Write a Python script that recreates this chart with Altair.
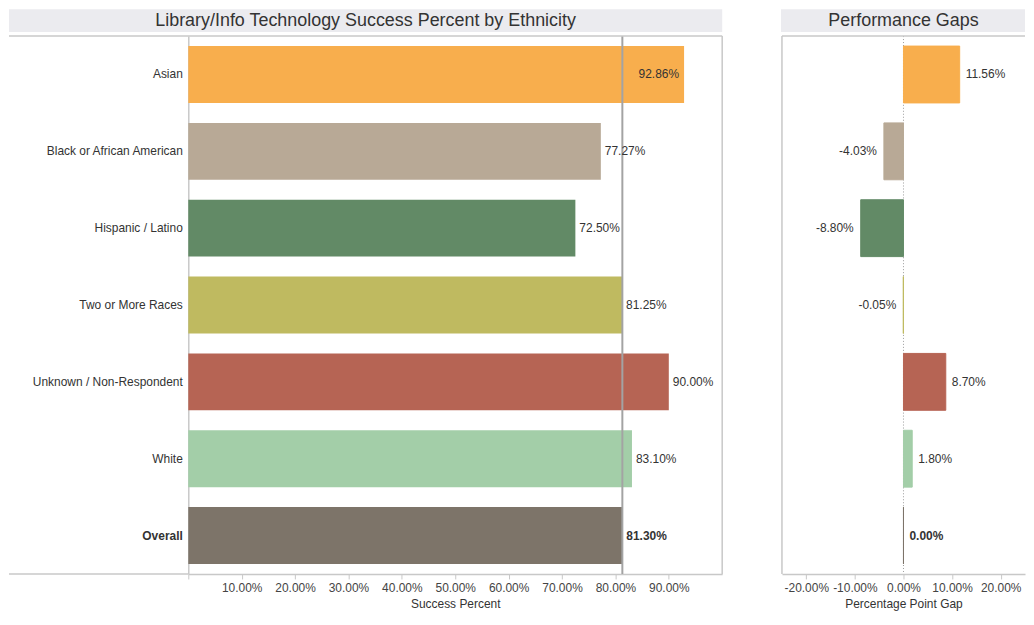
import altair as alt
import pandas as pd

categories = ["Asian", "Black or African American", "Hispanic / Latino",
              "Two or More Races", "Unknown / Non-Respondent", "White", "Overall"]
success = [0.9286, 0.7727, 0.7250, 0.8125, 0.9000, 0.8310, 0.8130]
gaps = [0.1156, -0.0403, -0.0880, -0.0005, 0.0870, 0.0180, 0.0000]
colors = ["#F8AE4D", "#B8A996", "#628A66", "#BFBA60", "#B66454", "#A3CEA8", "#7D7469"]
overall_value = 0.8130
left_ticks = [0, 0.1, 0.2, 0.3, 0.4, 0.5, 0.6, 0.7, 0.8, 0.9]
right_ticks = [-0.2, -0.1, 0, 0.1, 0.2]

df = pd.DataFrame({"group": categories, "success": success, "gap": gaps})
one = pd.DataFrame({"k": [0]})

FONT = "Liberation Sans"
FRAME = "#c8c8c8"
TXT = "#333333"
H = 540
LW = 536
RW = 244
LABEL_W = 180
BT, BB = -27, -4

ysc = alt.Scale(domain=categories, paddingInner=0.26, paddingOuter=0.13)
col = alt.Color("group:N", scale=alt.Scale(domain=categories, range=colors), legend=None)

base_l = alt.Chart(df).transform_calculate(
    slab="replace(format(datum.success, '.2%'), '\u2212', '-')")
y_l = alt.Y("group:N", sort=categories, scale=ysc, title=None,
            axis=alt.Axis(labelFontSize=12, labelColor=TXT, labelFont=FONT, ticks=False,
                          domain=True, domainColor=FRAME, domainWidth=1.5, labelPadding=6,
                          labelFontWeight={"condition": {"test": "datum.value === 'Overall'", "value": "bold"}, "value": "normal"}))
x_l = alt.X("success:Q", scale=alt.Scale(domain=[0, 1.0], nice=False),
            title="Success Percent",
            axis=alt.Axis(values=left_ticks, format=".2%", grid=False,
                          labelExpr="datum.value === 0 ? '' : datum.label",
                          labelFontSize=12, labelColor="#444", labelFont=FONT,
                          tickColor=FRAME, tickSize=5, domainColor=FRAME, domainWidth=1.5,
                          titleFontSize=12, titleFont=FONT, titleColor=TXT,
                          titleFontWeight="normal", titlePadding=5, labelPadding=4))

band_l = alt.Chart(one).mark_rect(color="#ebebef").encode(
    x=alt.value(-LABEL_W), x2=alt.value(LW), y=alt.value(BT), y2=alt.value(BB))
title_l = alt.Chart(one).mark_text(fontSize=18, font=FONT, color=TXT, baseline="middle").encode(
    x=alt.value((LW - LABEL_W) / 2), y=alt.value((BT + BB) / 2), text=alt.value("Library/Info Technology Success Percent by Ethnicity"))
top_l = alt.Chart(one).mark_rule(color=FRAME, strokeWidth=1.5).encode(
    x=alt.value(-LABEL_W), x2=alt.value(LW), y=alt.value(0))
bot_l = alt.Chart(one).mark_rule(color=FRAME, strokeWidth=1.5).encode(
    x=alt.value(-LABEL_W), x2=alt.value(0), y=alt.value(H))
right_l = alt.Chart(one).mark_rule(color=FRAME, strokeWidth=1.5).encode(
    x=alt.value(LW), y=alt.value(0), y2=alt.value(H))

bars_l = base_l.mark_bar().encode(x=x_l, y=y_l, color=col)
ref_l = alt.Chart(one).mark_rule(color="#a3a3a3", strokeWidth=2).encode(
    x=alt.datum(overall_value), y=alt.value(0), y2=alt.value(H))
yy = alt.Y("group:N", sort=categories, scale=ysc)
lab_out = base_l.transform_filter("datum.success <= 0.92 && datum.group !== 'Overall'").mark_text(
    align="left", dx=4, fontSize=12, font=FONT, color=TXT).encode(
    x="success:Q", y=yy, text="slab:N")
lab_in = base_l.transform_filter("datum.success > 0.92").mark_text(
    align="right", dx=-5, fontSize=12, font=FONT, color=TXT).encode(
    x="success:Q", y=yy, text="slab:N")
lab_bold = base_l.transform_filter("datum.group === 'Overall'").mark_text(
    align="left", dx=4, fontSize=12, font=FONT, color=TXT, fontWeight="bold").encode(
    x="success:Q", y=yy, text="slab:N")

left = alt.layer(band_l, title_l, bars_l, ref_l, lab_out, lab_in, lab_bold, top_l, bot_l, right_l).properties(
    width=LW, height=H)

# right panel
x_r = alt.X("gap:Q", scale=alt.Scale(domain=[-0.25, 0.25], nice=False), title="Percentage Point Gap",
            axis=alt.Axis(values=right_ticks, format=".2%", grid=False,
                          labelExpr="replace(datum.label, '\u2212', '-')",
                          labelFontSize=12, labelColor="#444", labelFont=FONT,
                          tickColor=FRAME, tickSize=5, domainColor=FRAME, domainWidth=1.5,
                          titleFontSize=12, titleFont=FONT, titleColor=TXT,
                          titleFontWeight="normal", titlePadding=5, labelPadding=4))
y_r = alt.Y("group:N", sort=categories, scale=ysc, axis=None)
base_r = alt.Chart(df).transform_calculate(
    glab="replace(format(datum.gap, '.2%'), '\u2212', '-')")
band_r = alt.Chart(one).mark_rect(color="#ebebef").encode(
    x=alt.value(-1), x2=alt.value(RW), y=alt.value(BT), y2=alt.value(BB))
title_r = alt.Chart(one).mark_text(fontSize=18, font=FONT, color=TXT, baseline="middle").encode(
    x=alt.value(RW / 2), y=alt.value((BT + BB) / 2), text=alt.value("Performance Gaps"))
top_r = alt.Chart(one).mark_rule(color=FRAME, strokeWidth=1.5).encode(
    x=alt.value(0), x2=alt.value(RW), y=alt.value(0))
left_r = alt.Chart(one).mark_rule(color=FRAME, strokeWidth=1.5).encode(
    x=alt.value(0), y=alt.value(0), y2=alt.value(H))
zero_r = alt.Chart(one).mark_rule(color="#999999", strokeWidth=1, strokeDash=[1, 2]).encode(
    x=alt.datum(0), y=alt.value(0), y2=alt.value(H))
bars_r = base_r.mark_bar(strokeWidth=1).encode(
    x=x_r, y=y_r, color=col,
    stroke=alt.Stroke("group:N", scale=alt.Scale(domain=categories, range=colors), legend=None))
pos_r = base_r.transform_filter("datum.gap > 0").mark_text(
    align="left", dx=6, fontSize=12, font=FONT, color=TXT).encode(
    x="gap:Q", y=y_r, text="glab:N")
neg_r = base_r.transform_filter("datum.gap < 0").mark_text(
    align="right", dx=-7, fontSize=12, font=FONT, color=TXT).encode(
    x="gap:Q", y=y_r, text="glab:N")
bold_r = base_r.transform_filter("datum.group === 'Overall'").mark_text(
    align="left", dx=6, fontSize=12, font=FONT, color=TXT, fontWeight="bold").encode(
    x="gap:Q", y=y_r, text="glab:N")

right = alt.layer(band_r, title_r, zero_r, bars_r, pos_r, neg_r, bold_r, top_r, left_r).properties(
    width=RW, height=H)

chart = alt.hconcat(left, right, spacing=58).properties(padding=0).configure_view(
    stroke=None).configure_concat(spacing=58)

chart.save("out.html", embed_options={"renderer": "svg", "actions": False})
